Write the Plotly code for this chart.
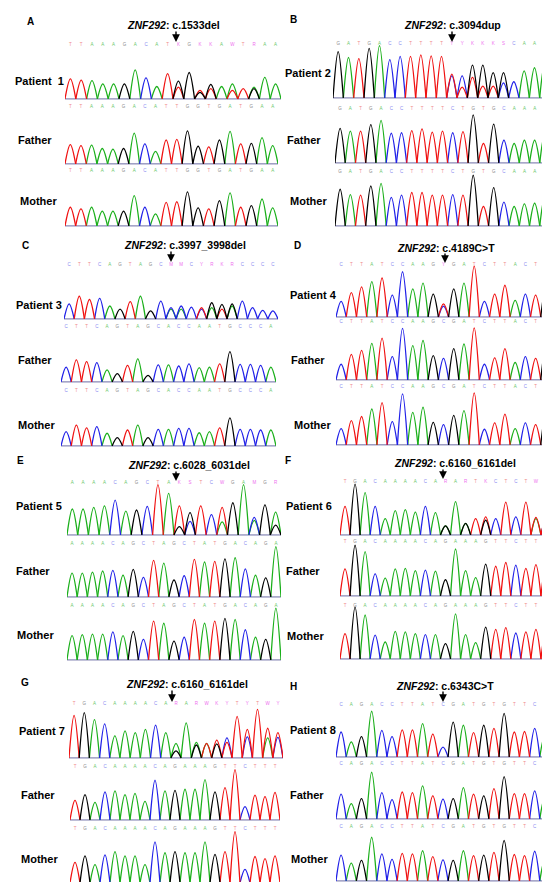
import re
import plotly.graph_objects as go

W, H = 550, 882

# ABI trace colours and the paler base-call colours
base_colors = {"A": "#1aaf1a", "C": "#2020e8", "G": "#000000", "T": "#f01010"}
call_colors = {"A": "#6cc86c", "C": "#8a8af0", "G": "#8a8a8a", "T": "#f08a8a", "N": "#ee6eee"}
iupac = {"AG": "R", "CT": "Y", "CG": "S", "AT": "W", "GT": "K", "AC": "M"}

panel_letters = ["A", "B", "C", "D", "E", "F", "G", "H"]
panel_variants = ["c.1533del", "c.3094dup", "c.3997_3998del", "c.4189C>T",
                  "c.6028_6031del", "c.6160_6161del", "c.6160_6161del", "c.6343C>T"]
patient_labels = ["Patient\u00a0 1", "Patient 2", "Patient 3", "Patient 4",
                  "Patient 5", "Patient 6", "Patient 7", "Patient 8"]
parent_labels = ["Father", "Mother"]

# peaks: base + signal (0-100), a second pair = overlapping peak
a_patient = ["T37", "T35", "A34", "A28", "A28", "G28", "A54", "C39", "A23", "T47", "G33T22", "G49",
             "T16G12", "G27T19", "A23", "A28T16", "T19", "A22G19", "A40", "A28"]
a_father = ["T34", "T32", "A33", "A27", "A26", "G27", "A54", "C35", "A22", "T42", "T43", "G58",
            "G31", "T30", "G42", "A57", "T35", "G36", "A46", "A32"]
a_mother = ["T34", "T31", "A34", "A27", "A27", "G27", "A55", "C34", "A22", "T43", "T44", "G62",
            "G33", "T31", "G46", "A60", "T34", "G37", "A49", "A33"]

b_patient = ["G86", "A75", "T73", "G92", "A97", "C71", "C77", "T77", "T80", "T78", "T77", "T44C41",
             "C41T20", "G61T38", "G61T22", "G47T22", "G47C28", "C30", "A50", "A56", "A65"]
b_father = ["G64", "A59", "T59", "G71", "A79", "C55", "C56", "T60", "T63", "T57", "T59", "C56",
            "T58", "G89", "T36", "G72", "C42", "A36", "A42", "A42", "A55"]
b_mother = ["G68", "A58", "T57", "G74", "A79", "C53", "C57", "T62", "T62", "T57", "T57", "C58",
            "T57", "G94", "T36", "G71", "C44", "A36", "A41", "A42", "A55"]

c_patient = ["C28", "T42", "T36", "C38", "A24", "G18", "T32", "A42", "G15", "C33", "C21A18", "C24A18",
             "C22", "T21C18", "G30A21", "G27T18", "G28A24", "C33", "C21", "C16", "C15"]
c_father = ["C27", "T40", "T37", "C35", "A22", "G15", "T30", "A42", "G12", "C31", "A31", "C29",
            "C33", "A26", "A27", "T33", "G55", "C32", "C32", "C30", "A27"]
c_mother = ["C26", "T38", "T33", "C35", "A23", "G15", "T29", "A38", "G15", "C30", "A30", "C32",
            "C32", "A24", "A26", "T33", "G51", "C30", "C30", "C29", "A29"]

d_patient = ["C30", "T47", "T58", "A68", "T75", "C42", "C87", "A54", "A65", "G44", "T25C21", "G54",
             "A65", "T98", "C30", "T44", "T61", "A32", "C44", "T42", "G58"]
d_father = ["C27", "T44", "T51", "A63", "T72", "C40", "C89", "A59", "A68", "G42", "C37", "G54",
            "A62", "T90", "C27", "T38", "T54", "A30", "C40", "T37", "G58"]
d_mother = ["C28", "T42", "T49", "A62", "T73", "C40", "C88", "A56", "A65", "G39", "C35", "G51",
            "A59", "T90", "C27", "T38", "T53", "A28", "C38", "T35", "G56"]

e_patient = ["A50", "A50", "A53", "A56", "C67", "A46", "G48", "C55", "T97", "A80", "T56G16", "G43C26",
             "T56", "C39", "T53A25", "G62", "A97", "C34A28", "G58", "A44G19"]
e_father = ["A45", "A45", "A47", "A49", "C50", "A41", "G52", "C37", "T69", "A64", "G32", "C40",
            "T71", "A66", "T67", "G72", "A74", "C53", "A41", "G36", "A95"]
e_mother = ["A45", "A47", "A48", "A48", "C52", "A45", "G53", "C38", "T72", "A68", "G35", "C42",
            "T75", "A68", "T72", "G77", "A75", "C56", "A42", "G38", "A96"]

f_patient = ["T54", "G96", "A80", "C54", "A31", "A46", "A48", "A43", "C54", "A42", "G17A17", "A63",
             "G22A22", "T31", "T34G28", "C31", "T62", "C34", "T62", "T33A31", "T31C29"]
f_father = ["T50", "G94", "A82", "C41", "A33", "A50", "A51", "A47", "C48", "A46", "G30", "A87",
            "A47", "A34", "G59", "T55", "T62", "C57", "T51", "T58", "T58"]
f_mother = ["T48", "G98", "A83", "C45", "A32", "A52", "A51", "A48", "C46", "A46", "G29", "A85",
            "A46", "A31", "G60", "T56", "T59", "C49", "T51", "T56", "T56"]

g_patient = ["T79", "G84", "A71", "C63", "A41", "A50", "A47", "A53", "C61", "A47", "A27G13", "A65",
             "A29G24", "T27A27", "T33G26", "C37T29", "T77", "T53C39", "T90", "T55A37", "T47C38"]
g_father = ["T37", "G48", "A33", "C53", "A55", "A48", "A50", "A35", "C75", "A55", "G56", "A58",
            "A58", "A76", "G53", "T61", "T95", "C25", "T47", "T44", "T52"]
g_mother = ["T38", "G50", "A34", "C52", "A58", "A50", "A50", "A34", "C76", "A56", "G58", "A56",
            "A56", "A76", "G53", "T58", "T95", "C25", "T49", "T45", "T50"]

h_patient = ["C48", "A29", "G39", "A88", "C51", "C39", "T52", "T52", "A64", "T44", "C19", "G67",
             "A61", "T47", "G61", "T55", "G84", "T48", "T49", "C55", "A42"]
h_father = ["C45", "A28", "G37", "A85", "C48", "C35", "T49", "T48", "A60", "T42", "C36", "G37",
            "A57", "T45", "G42", "T55", "G77", "T46", "T46", "C51", "A40"]
h_mother = ["C48", "A33", "G38", "A81", "C50", "C40", "T51", "T50", "A56", "T45", "C39", "G38",
            "A56", "T47", "G48", "T53", "G75", "T49", "T47", "C55", "A40"]

traces = [
    [a_patient, a_father, a_mother], [b_patient, b_father, b_mother],
    [c_patient, c_father, c_mother], [d_patient, d_father, d_mother],
    [e_patient, e_father, e_mother], [f_patient, f_father, f_mother],
    [g_patient, g_father, g_mother], [h_patient, h_father, h_mother],
]

# pixel layout of each panel: letter (x, y), title centre (x, y), arrow (x, tail, tip)
panel_geom = [
    dict(letter=(22, 14), title=(165, 17), arrow=(168, 22, 34)),
    dict(letter=(285, 11), title=(444, 17), arrow=(444, 22, 34)),
    dict(letter=(17, 238), title=(177, 237), arrow=(163, 242, 254)),
    dict(letter=(289, 238), title=(438, 240), arrow=(437, 244, 255)),
    dict(letter=(12, 452), title=(181, 457), arrow=(168, 462, 473)),
    dict(letter=(280, 452), title=(447, 455), arrow=(435, 460, 471)),
    dict(letter=(17, 674), title=(179, 676), arrow=(164, 681, 694)),
    dict(letter=(285, 678), title=(437, 678), arrow=(435, 682, 694)),
]
# rows: label left x, label y, trace x0, x1, base-call row y, baseline y
row_geom = [
    [(6, 73, 57, 273, 37, 92), (9, 132, 57, 270, 99, 157), (11, 193, 57, 270, 163, 219)],
    [(276, 65, 325, 542, 36, 91), (278, 132, 327, 542, 101, 156), (281, 193, 327, 542, 164, 219)],
    [(7, 297, 56, 270, 257, 312), (9, 352, 53, 268, 319, 375), (9, 417, 53, 268, 383, 439)],
    [(281, 287, 328, 543, 257, 310), (282, 352, 328, 543, 314, 373), (285, 417, 328, 543, 379, 438)],
    [(7, 498, 59, 273, 475, 528), (7, 563, 59, 273, 536, 590), (8, 627, 59, 273, 598, 653)],
    [(277, 498, 332, 543, 474, 528), (277, 563, 332, 543, 534, 589), (278, 628, 332, 543, 598, 652)],
    [(10, 723, 61, 275, 696, 751), (12, 787, 62, 272, 759, 813), (12, 851, 62, 272, 821, 876)],
    [(281, 722, 328, 542, 697, 750), (281, 787, 328, 542, 756, 812), (282, 851, 328, 542, 819, 874)],
]

FONT = "Liberation Sans, Arial, sans-serif"


def parse_peaks(tokens):
    peaks = []
    for tok in tokens:
        peaks.append([(b, int(v)) for b, v in re.findall(r"([ACGT])(\d+)", tok)])
    return peaks


def px_note(text, px, py, size, anchor="center"):
    return dict(text=text, x=px / W, y=1 - py / H, xref="paper", yref="paper",
                xanchor=anchor, yanchor="middle", showarrow=False, borderpad=0,
                font=dict(size=size, color="black", family=FONT))


fig = go.Figure()
layout = dict(width=W, height=H, margin=dict(l=0, r=0, t=0, b=0),
              paper_bgcolor="white", plot_bgcolor="white", showlegend=False)
annotations = []

k = 0
for p in range(8):
    pg = panel_geom[p]
    annotations.append(px_note("<b>%s</b>" % panel_letters[p], *pg["letter"], 10))
    annotations.append(px_note("<b><i>ZNF292</i>: %s</b>" % panel_variants[p], *pg["title"], 10.5))
    ax, tail, tip = pg["arrow"]
    annotations.append(dict(text="", x=ax / W, y=1 - tip / H, xref="paper", yref="paper",
                            showarrow=True, ax=0, ay=-(tip - tail), arrowhead=2,
                            arrowsize=1.1, arrowwidth=1.4, arrowcolor="black"))

    labels = [patient_labels[p]] + parent_labels
    for r in range(3):
        lx, ly, x0, x1, top, base = row_geom[p][r]
        annotations.append(px_note("<b>%s</b>" % labels[r], lx, ly, 11, anchor="left"))

        peaks = parse_peaks(traces[p][r])
        n = len(peaks)
        xname = "x" if k == 0 else "x%d" % (k + 1)
        yname = "y" if k == 0 else "y%d" % (k + 1)
        layout["xaxis" if k == 0 else "xaxis%d" % (k + 1)] = dict(
            domain=[x0 / W, x1 / W], range=[-0.5, n - 0.5], visible=False, anchor=yname)
        layout["yaxis" if k == 0 else "yaxis%d" % (k + 1)] = dict(
            domain=[1 - base / H, 1 - top / H], range=[-2, 100], visible=False, anchor=xname)

        # faint baseline
        fig.add_trace(go.Scatter(x=[-0.5, n - 0.5], y=[0, 0], mode="lines", xaxis=xname,
                                 yaxis=yname, line=dict(color="#5a5a9a", width=0.9),
                                 hoverinfo="skip"))
        for b in ["A", "C", "T", "G"]:
            xs, ys = [], []
            for i, pk in enumerate(peaks):
                for bb, v in pk:
                    if bb == b:
                        xs += [i - 0.5, i, i + 0.5, None]
                        ys += [0, v, 0, None]
            if xs:
                fig.add_trace(go.Scatter(x=xs, y=ys, mode="lines", xaxis=xname, yaxis=yname,
                                         line=dict(color=base_colors[b], width=1.3,
                                                   shape="spline", smoothing=1.0),
                                         connectgaps=False, hoverinfo="skip"))

        # base calls above the trace
        calls, ccols = [], []
        for pk in peaks:
            if len(pk) > 1:
                key = "".join(sorted(pk[0][0] + pk[1][0]))
                calls.append(iupac.get(key, "N"))
                ccols.append(call_colors["N"])
            else:
                calls.append(pk[0][0])
                ccols.append(call_colors[pk[0][0]])
        fig.add_trace(go.Scatter(x=list(range(n)), y=[100] * n, mode="text", text=calls,
                                 textfont=dict(size=4.5, color=ccols, family=FONT),
                                 xaxis=xname, yaxis=yname, cliponaxis=False,
                                 hoverinfo="skip"))
        k += 1

layout["annotations"] = annotations
fig.update_layout(**layout)
fig.write_html("out.html")
